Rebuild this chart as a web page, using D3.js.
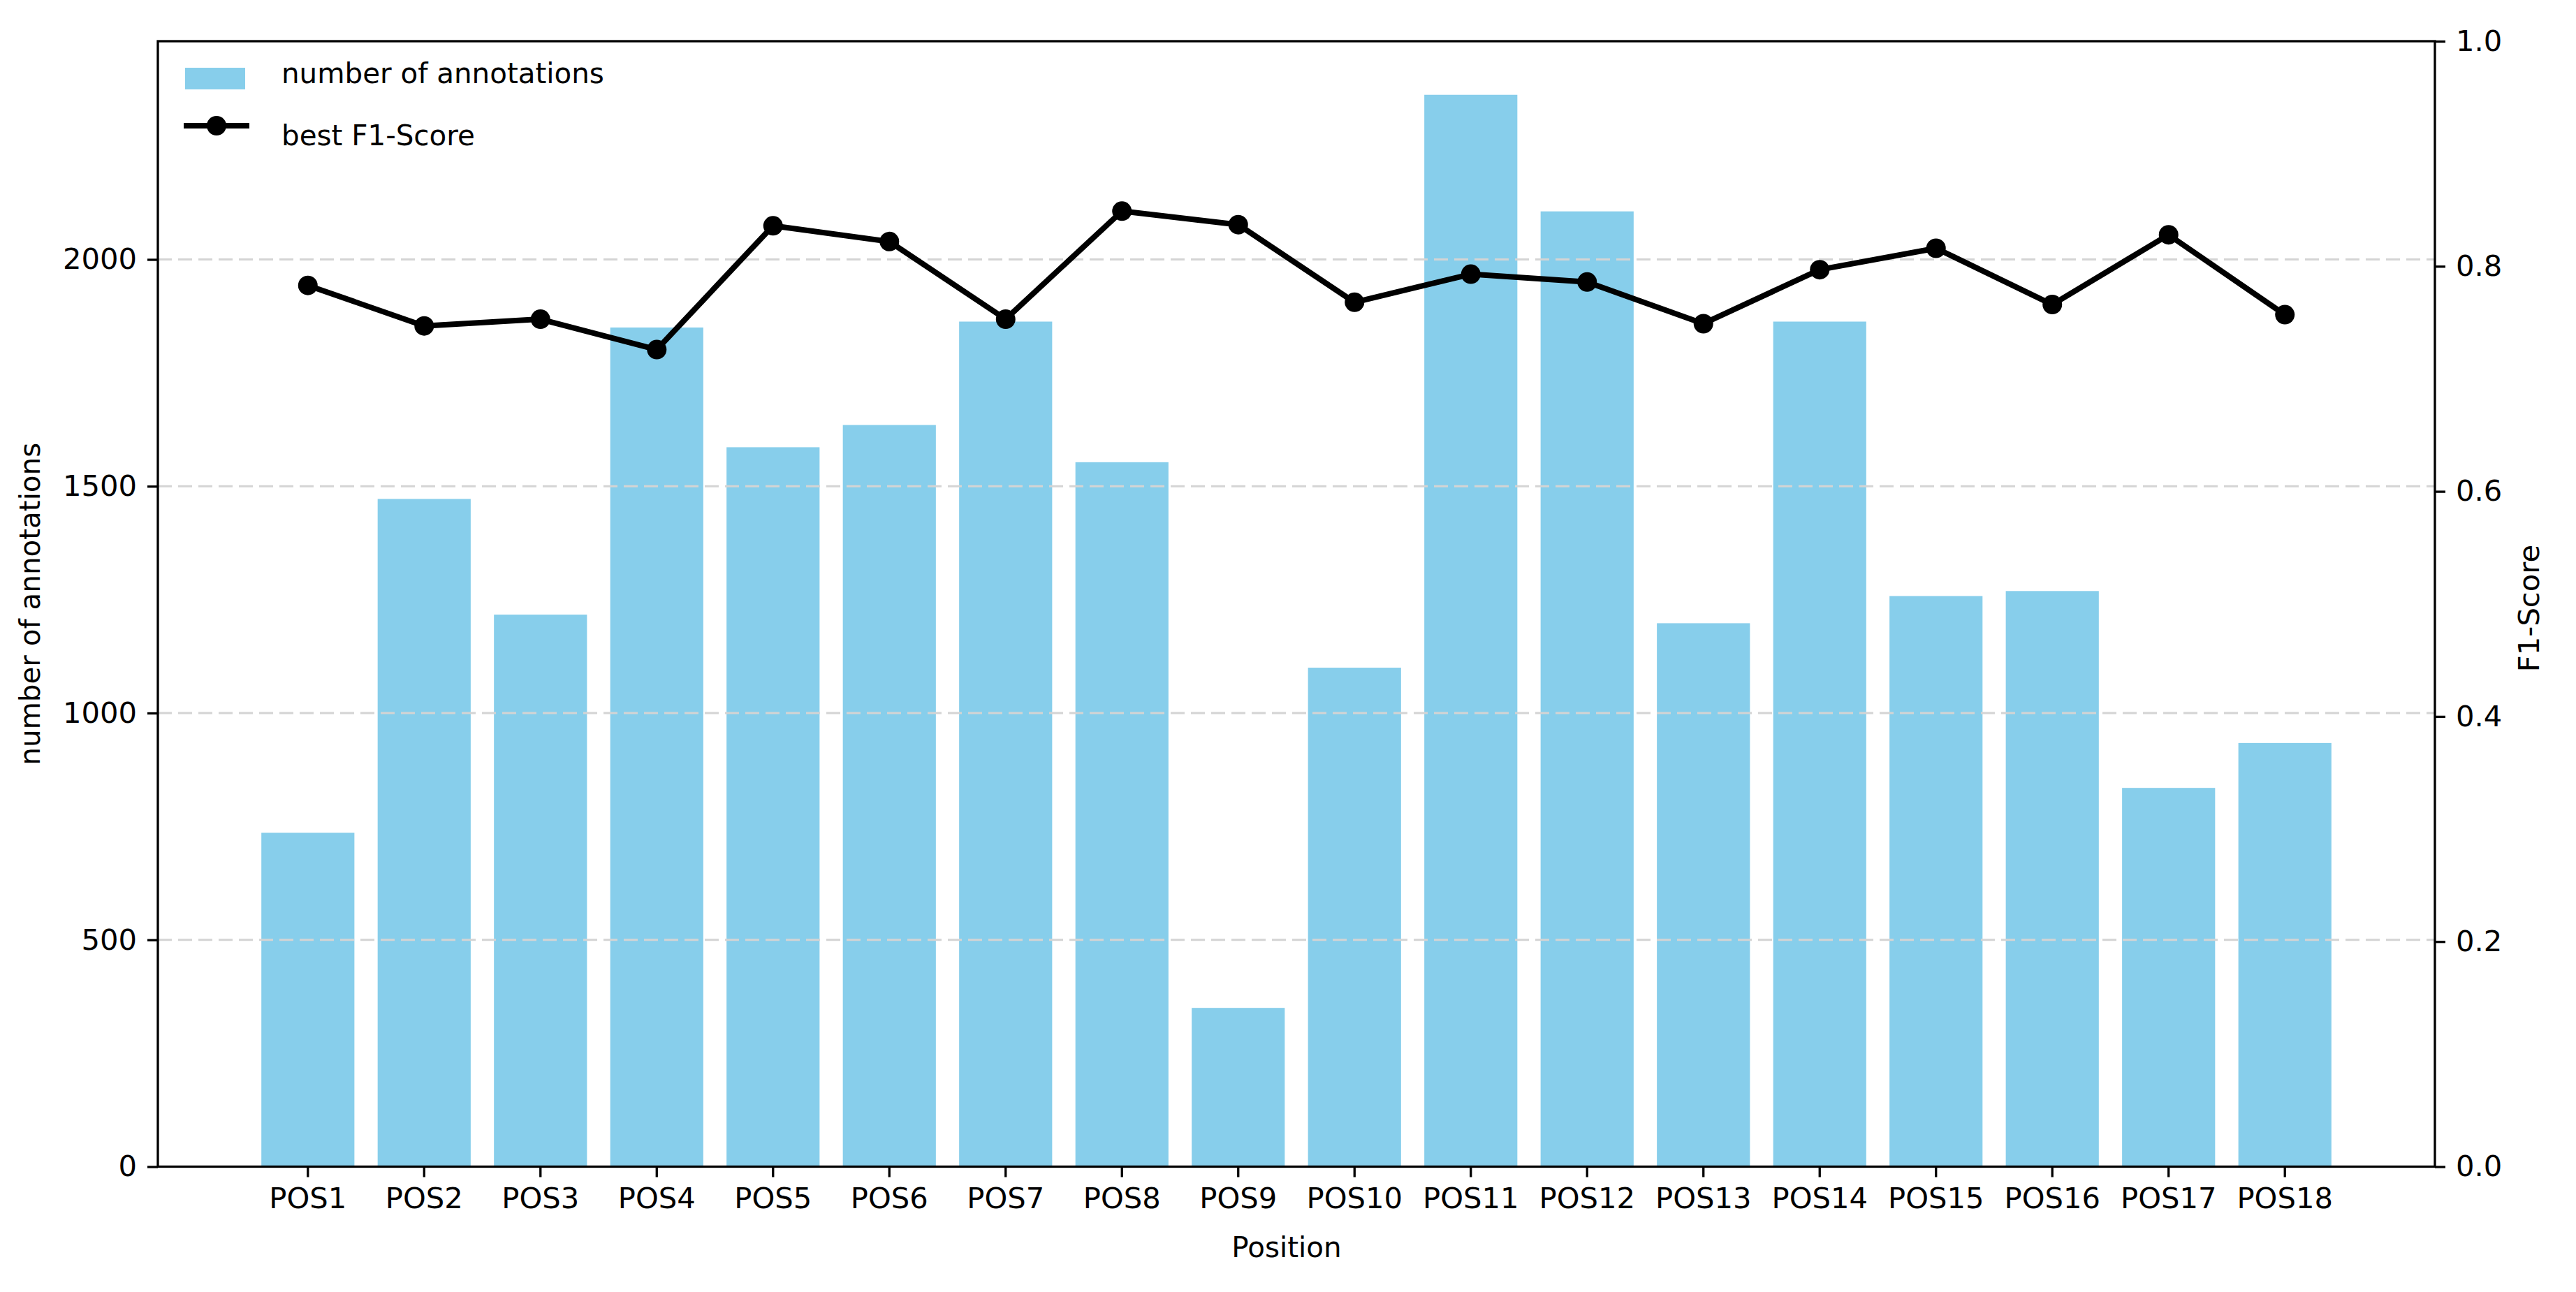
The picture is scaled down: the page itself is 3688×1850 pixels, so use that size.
<!DOCTYPE html>
<html>
<head>
<meta charset="utf-8">
<script src="https://cdn.jsdelivr.net/npm/d3@7"></script>
<style>
  body { margin: 0; background: #fff; }
  svg text { font-family: "DejaVu Sans", sans-serif; fill: #000; }
</style>
</head>
<body>
<div id="chart"></div>
<script>
// data
const positions = ["POS1", "POS2", "POS3", "POS4", "POS5", "POS6", "POS7", "POS8", "POS9",
  "POS10", "POS11", "POS12", "POS13", "POS14", "POS15", "POS16", "POS17", "POS18"];
const annotations = [736, 1472, 1217, 1850, 1586, 1635, 1863, 1553, 350,
  1100, 2363, 2106, 1198, 1863, 1258, 1269, 835, 934];
const f1Scores = [0.783, 0.747, 0.753, 0.726, 0.836, 0.822, 0.753, 0.849, 0.837,
  0.768, 0.793, 0.786, 0.749, 0.797, 0.816, 0.766, 0.828, 0.757];
const countTicks = [0, 500, 1000, 1500, 2000];
const f1Ticks = [0, 0.2, 0.4, 0.6, 0.8, 1.0];

const W = 3688, H = 1850;
const margin = {top: 59, right: 202, bottom: 179.5, left: 226},
    width = W - margin.left - margin.right,
    height = H - margin.top - margin.bottom;
const fontSize = 41.7;
const labelSize = 40.4;

const svg = d3.select("#chart")
  .append("svg")
    .attr("width", W)
    .attr("height", H)
  .append("g")
    .attr("transform", `translate(${margin.left},${margin.top})`);

// x: band scale, same spacing as matplotlib bars (width .8, 5% margins)
const x = d3.scaleBand()
  .domain(positions)
  .range([0, width])
  .paddingInner(0.2)
  .paddingOuter(0.89);

const y = d3.scaleLinear()
  .domain([0, d3.max(annotations) * 1.05])
  .range([height, 0]);

const y2 = d3.scaleLinear()
  .domain([0, 1])
  .range([height, 0]);

// bars
svg.append("g")
  .selectAll("rect")
  .data(annotations)
  .join("rect")
    .attr("x", (d, i) => x(positions[i]))
    .attr("y", d => y(d))
    .attr("width", x.bandwidth())
    .attr("height", d => height - y(d))
    .attr("fill", "#87ceeb");

// dashed grid from the left axis, above the bars
svg.append("g")
  .selectAll("line")
  .data(countTicks.filter(d => d > 0))
  .join("line")
    .attr("x1", 0)
    .attr("x2", width)
    .attr("y1", d => y(d))
    .attr("y2", d => y(d))
    .attr("stroke", "#d4d4d4")
    .attr("stroke-width", 3)
    .attr("stroke-dasharray", "20,9");

// axes
const styleAxis = g => {
  g.select(".domain").remove();
  g.selectAll(".tick line").attr("stroke", "#000").attr("stroke-width", 3.3);
  g.selectAll(".tick text").style("font-size", fontSize + "px").attr("fill", "#000");
};

svg.append("g")
  .attr("transform", `translate(0, ${height})`)
  .call(d3.axisBottom(x).tickSize(15).tickPadding(15))
  .call(styleAxis);

svg.append("g")
  .call(d3.axisLeft(y).tickValues(countTicks).tickFormat(d3.format("d")).tickSize(15).tickPadding(15))
  .call(styleAxis);

svg.append("g")
  .attr("transform", `translate(${width}, 0)`)
  .call(d3.axisRight(y2).tickValues(f1Ticks).tickFormat(d3.format(".1f")).tickSize(15).tickPadding(15))
  .call(styleAxis);

// frame
svg.append("rect")
  .attr("width", width)
  .attr("height", height)
  .attr("fill", "none")
  .attr("stroke", "#000")
  .attr("stroke-width", 3.3);

// F1 line + markers
const cx = i => x(positions[i]) + x.bandwidth() / 2;
svg.append("path")
  .datum(f1Scores)
  .attr("fill", "none")
  .attr("stroke", "#000")
  .attr("stroke-width", 8)
  .attr("stroke-linejoin", "round")
  .attr("d", d3.line()
    .x((d, i) => cx(i))
    .y(d => y2(d))
  );

svg.append("g")
  .selectAll("circle")
  .data(f1Scores)
  .join("circle")
    .attr("cx", (d, i) => cx(i))
    .attr("cy", d => y2(d))
    .attr("r", 14)
    .attr("fill", "#000");

// axis labels
svg.append("text")
  .attr("text-anchor", "middle")
  .attr("x", width / 2 - 14)
  .attr("y", 1800 - margin.top)
  .style("font-size", labelSize + "px")
  .text("Position");

svg.append("text")
  .attr("text-anchor", "middle")
  .attr("transform", `translate(${57 - margin.left}, ${height / 2}) rotate(-90)`)
  .style("font-size", labelSize + "px")
  .text("number of annotations");

svg.append("text")
  .attr("text-anchor", "middle")
  .attr("transform", `translate(${3635 - margin.left}, ${871 - margin.top}) rotate(-90)`)
  .style("font-size", fontSize + "px")
  .text("F1-Score");

// legend (no frame)
const legend = svg.append("g")
  .attr("transform", `translate(${-margin.left}, ${-margin.top})`);

legend.append("rect")
  .attr("x", 265)
  .attr("y", 97)
  .attr("width", 86)
  .attr("height", 31)
  .attr("fill", "#87ceeb");

legend.append("text")
  .attr("x", 403)
  .attr("y", 119)
  .style("font-size", labelSize + "px")
  .text("number of annotations");

legend.append("line")
  .attr("x1", 263)
  .attr("x2", 357)
  .attr("y1", 180)
  .attr("y2", 180)
  .attr("stroke", "#000")
  .attr("stroke-width", 8);

legend.append("circle")
  .attr("cx", 310)
  .attr("cy", 180)
  .attr("r", 14)
  .attr("fill", "#000");

legend.append("text")
  .attr("x", 403)
  .attr("y", 208)
  .style("font-size", labelSize + "px")
  .text("best F1-Score");
</script>
</body>
</html>
